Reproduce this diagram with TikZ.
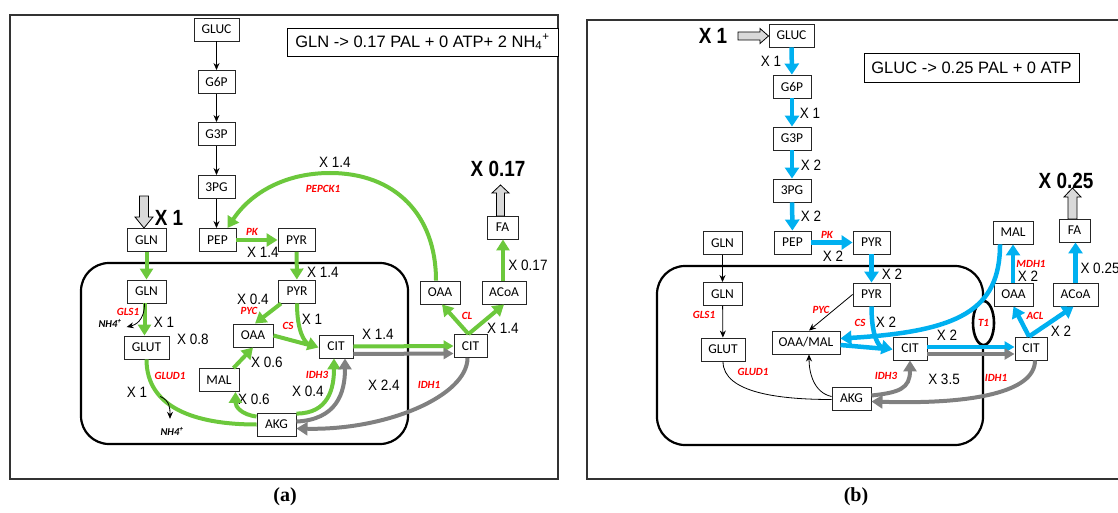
\documentclass[tikz,border=0pt]{standalone}
\usepackage{fontspec}
\setmainfont{Liberation Sans}
\newfontfamily\carl{Carlito}
\newfontfamily\xlblfont[FakeStretch=0.9]{Liberation Sans}
\newfontfamily\xbigfont[FakeStretch=0.86]{Liberation Sans}
\newfontfamily\xcapfont{Liberation Serif}
\usetikzlibrary{arrows.meta,shapes.geometric}
\definecolor{cgreen}{RGB}{108,200,60}
\definecolor{cblue}{RGB}{0,176,240}
\definecolor{cgray}{RGB}{128,128,128}
\definecolor{cred}{RGB}{255,0,0}
\definecolor{cfill}{RGB}{217,217,217}
\begin{document}
\begin{tikzpicture}[x=1pt,y=-1pt,
  box/.style={draw=black!85,line width=0.9pt,fill=white,font=\carl\fontsize{13.5}{13.5}\selectfont,minimum height=23pt,minimum width=#1,inner sep=0pt},
  eqbox/.style={draw=black,line width=0.9pt,fill=white,font=\fontsize{16.5}{17}\selectfont,inner sep=0pt},
  lab/.style={font=\xlblfont\fontsize{15}{15}\selectfont,inner sep=0pt},
  bigx/.style={font=\xbigfont\bfseries\fontsize{22}{22}\selectfont,inner sep=0pt},
  enz/.style={font=\carl\bfseries\itshape\fontsize{11}{11}\selectfont,text=cred,inner sep=0pt},
  nh/.style={font=\carl\bfseries\itshape\fontsize{10.5}{11}\selectfont,inner sep=0pt},
  capt/.style={font=\xcapfont\bfseries\fontsize{20}{20}\selectfont,inner sep=0pt},
  thinarr/.style={draw=black,line width=0.8pt,-{Stealth[length=7pt,width=6pt]}},
  thinln/.style={draw=black,line width=0.8pt},
  garr/.style={draw=cgreen,line width=4pt,-{Triangle[length=11pt,width=13pt]}},
  gln/.style={draw=cgreen,line width=4pt},
  barr/.style={draw=cblue,line width=4.5pt,-{Triangle[length=11pt,width=14pt]}},
  bln/.style={draw=cblue,line width=4.5pt},
  grarr/.style={draw=cgray,line width=4pt,-{Triangle[length=11pt,width=13pt]}},
  blockarr/.style={draw=black,line width=0.8pt,fill=cfill,line join=miter},
  frame/.style={draw=black!80,line width=1.1pt},
  mito/.style={draw=black,line width=2.2pt,rounded corners=28pt},
  t1/.style={draw=black,line width=2.6pt,fill=white,ellipse,minimum width=21pt,minimum height=44pt,inner sep=0pt,font=\carl\bfseries\itshape\fontsize{11}{11}\selectfont,text=cred}
]
\useasboundingbox (0,0) rectangle (1118,513);

% ================= PANEL (a) =================
\draw[frame] (10,15) rectangle (558,479);
\draw[mito] (81,263) rectangle (408,444);

\node[box=45pt] (aGLUC) at (216.5,29.5) {GLUC};
\node[box=37pt] (aG6P) at (216.5,82) {G6P};
\node[box=37pt] (aG3P) at (216.5,134) {G3P};
\node[box=37pt] (a3PG) at (216.5,187) {3PG};
\node[box=37pt] (aPEP) at (217.5,240) {PEP};
\node[box=39pt] (aGLNt) at (146.5,240) {GLN};
\node[box=37pt] (aPYRt) at (296.5,240) {PYR};
\node[box=39pt] (aGLNi) at (146.5,291.5) {GLN};
\node[box=45pt] (aGLUT) at (146.5,347.5) {GLUT};
\node[box=37pt] (aPYRi) at (297,291.5) {PYR};
\node[box=40pt] (aOAAi) at (253,335.5) {OAA};
\node[box=40pt] (aMAL) at (219,380) {MAL};
\node[box=39pt] (aAKG) at (276.5,424.5) {AKG};
\node[box=34pt] (aCITi) at (336,346.5) {CIT};
\node[box=33pt] (aCITo) at (470.5,346) {CIT};
\node[box=40pt] (aOAAo) at (440,292.5) {OAA};
\node[box=44pt] (aACoA) at (504,292.5) {ACoA};
\node[box=31pt] (aFA) at (502.5,227.5) {FA};
\node[eqbox,minimum width=271pt,minimum height=28pt] (aEQ) at (422.5,42) {GLN -> 0.17 PAL + 0 ATP+ 2 NH\textsubscript{4}\textsuperscript{+}};

% block arrows
\draw[blockarr] (139.5,196) -- (148.5,196) -- (148.5,217) -- (153,217) -- (144,228) -- (135,217) -- (139.5,217) -- cycle;
\draw[blockarr] (496.5,216) -- (504.5,216) -- (504.5,193) -- (509,193) -- (500.5,185) -- (492,193) -- (496.5,193) -- cycle;

% labels
\node[lab] (aL1) at (335,162) {X 1.4};
\node[enz] (aE1) at (323,189) {PEPCK1};
\node[bigx] (aB1) at (498,169) {X 0.17};
\node[bigx] (aB2) at (169,218) {X 1};
\node[enz] (aE2) at (252,232) {PK};
\node[lab] (aL2) at (263,252) {X 1.4};
\node[lab] (aL3) at (323,272) {X 1.4};
\node[enz] (aE3) at (128,312) {GLS1};
\node[nh] (aNH1) at (110,323) {NH4\textsuperscript{+}};
\node[lab] (aL4) at (164,322) {X 1};
\node[lab] (aL5) at (193,339) {X 0.8};
\node[enz] (aE4) at (170,376) {GLUD1};
\node[lab] (aL6) at (137,392) {X 1};
\node[nh] (aNH2) at (172,431) {NH4\textsuperscript{+}};
\node[lab] (aL7) at (253,299) {X 0.4};
\node[enz] (aE5) at (249,311) {PYC};
\node[enz] (aE6) at (288,326) {CS};
\node[lab] (aL8) at (267,362) {X 0.6};
\node[lab] (aL9) at (254,399) {X 0.6};
\node[lab] (aL10) at (312,319) {X 1};
\node[lab] (aL11) at (378,334) {X 1.4};
\node[enz] (aE7) at (317,375) {IDH3};
\node[lab] (aL12) at (308,391) {X 0.4};
\node[lab] (aL13) at (384,385) {X 2.4};
\node[enz] (aE8) at (429,385) {IDH1};
\node[enz] (aE9) at (467,316) {CL};
\node[lab] (aL14) at (503,328) {X 1.4};
\node[lab] (aL15) at (528,265) {X 0.17};
\node[capt] (aCap) at (285,497) {(a)};

% connectors (a)
\draw[thinarr] (aGLUC) -- (aG6P);
\draw[thinarr] (aG6P) -- (aG3P);
\draw[thinarr] (aG3P) -- (a3PG);
\draw[thinarr] (a3PG.south) -- (a3PG.south |- aPEP.north);
\draw[garr] (aGLNt) -- (aGLNi);
\draw[garr] ([xshift=-2pt]aGLNi.south) -- ([xshift=-2pt]aGLUT.north);
\draw[thinarr] ([xshift=-2pt]aGLNi.south) .. controls +(0,18) and +(8,-2) .. ([xshift=5pt,yshift=-4pt]aNH1.east);
\draw[garr] (aPEP) -- (aPYRt);
\draw[garr] (aPYRt) -- (aPYRi);
\draw[garr] ([xshift=3pt]aPYRi.south west) -- ([xshift=2pt]aOAAi.north);
\draw[garr] (aPYRi.south) .. controls +(0,28) and +(-14,-5) .. ([yshift=-1pt]aCITi.west);
\draw[gln,shorten >=6pt] (aOAAi.east) -- ([yshift=-1pt]aCITi.west);
\draw[garr] ([xshift=-6pt]aMAL.north east) -- (aOAAi.south);
\draw[garr] ([yshift=-4pt]aAKG.north west) .. controls +(-15,-2) and +(0,15) .. ([xshift=-4pt]aMAL.south east);
\draw[gln] (aGLUT.south) .. controls +(0,48) and +(-62,0) .. (aAKG.west) coordinate[pos=0.32] (aG1);
\draw[thinarr] (aG1) .. controls +(10,4) and +(0,-10) .. ([xshift=-2pt,yshift=8pt]aNH2.north);
\draw[garr] ([yshift=-1pt]aAKG.north east) .. controls +(32,0) and +(0,30) .. ([xshift=-2pt]aCITi.south);
\draw[grarr] ([yshift=-9pt]aAKG.north east) .. controls +(40,-2) and +(0,35) .. ([xshift=9pt]aCITi.south);
\draw[garr,-{Triangle[length=10pt,width=11pt]}] (aCITi.east) -- (aCITo.west);
\draw[grarr,-{Triangle[length=10pt,width=11pt]}] ([yshift=-7.5pt]aCITi.east) -- ([yshift=-7.5pt]aCITo.west);
\draw[grarr] ([xshift=-3pt]aCITo.south) .. controls +(0,38) and +(90,2) .. ([yshift=-4pt]aAKG.east);
\draw[garr] ([xshift=-2pt]aCITo.north) -- ([xshift=2pt]aOAAo.south);
\draw[garr] ([xshift=-2pt]aCITo.north) -- (aACoA.south);
\draw[garr] ([xshift=-1pt]aACoA.north) -- ([xshift=0.5pt]aFA.south);
\coordinate (aPK1) at (330,173);
\draw[garr] ([xshift=-4pt]aOAAo.north) .. controls +(0,-66) and +(65,0) .. (aPK1) .. controls +(-45,0) and +(23,-35) .. ([xshift=-9pt]aPEP.north east);

% ================= PANEL (b) =================
\draw[frame] (1125,20) -- (587,20) -- (587,479) -- (1125,479);
\draw[mito] (657,266) rectangle (983,445);
\node[t1] (bT1) at (983.5,323) {T1};

\node[box=45pt] (bGLUC) at (791.5,35.5) {GLUC};
\node[box=38pt] (bG6P) at (792,86.5) {G6P};
\node[box=38pt] (bG3P) at (792,138.5) {G3P};
\node[box=38pt] (b3PG) at (792,190.5) {3PG};
\node[box=37pt] (bPEP) at (792.5,242.5) {PEP};
\node[box=39pt] (bGLNt) at (722.5,243) {GLN};
\node[box=37pt] (bPYRt) at (871.5,242.5) {PYR};
\node[box=39pt] (bGLNi) at (722.5,294) {GLN};
\node[box=44pt] (bGLUT) at (723,349.5) {GLUT};
\node[box=37pt] (bPYRi) at (871.5,294.5) {PYR};
\node[box=68pt] (bOAAMAL) at (806,342.5) {OAA/MAL};
\node[box=39pt] (bAKG) at (851.5,398.5) {AKG};
\node[box=34pt] (bCITi) at (910,348.5) {CIT};
\node[box=32pt] (bCITo) at (1031,348.5) {CIT};
\node[box=39pt] (bOAAo) at (1013.5,294.5) {OAA};
\node[box=40pt] (bMAL) at (1013,232.5) {MAL};
\node[box=45pt] (bACoA) at (1075.5,294.5) {ACoA};
\node[box=31pt] (bFA) at (1074.5,230.5) {FA};
\node[eqbox,minimum width=215pt,minimum height=29pt] (bEQ) at (971.5,67.5) {GLUC -> 0.25 PAL + 0 ATP};

\draw[blockarr] (738,32) -- (760,32) -- (760,28.5) -- (768.5,36) -- (760,43.5) -- (760,40) -- (738,40) -- cycle;
\draw[blockarr] (1068,219) -- (1077,219) -- (1077,197) -- (1081,197) -- (1072.5,188) -- (1064,197) -- (1068,197) -- cycle;

\node[bigx] (bB1) at (713,36) {X 1};
\node[lab] (bL1) at (771,61) {X 1};
\node[lab] (bL2) at (810,113) {X 1};
\node[lab] (bL3) at (811,165) {X 2};
\node[lab] (bL4) at (811,216) {X 2};
\node[enz] (bE1) at (827,235) {PK};
\node[lab] (bL5) at (833,256) {X 2};
\node[lab] (bL6) at (892,274) {X 2};
\node[enz] (bE2) at (704,315) {GLS1};
\node[enz] (bE3) at (753,372) {GLUD1};
\node[enz] (bE4) at (821,310) {PYC};
\node[enz] (bE5) at (860,323) {CS};
\node[lab] (bL7) at (886,322) {X 2};
\node[lab] (bL8) at (947,335) {X 2};
\node[enz] (bE6) at (1031,264) {MDH1};
\node[lab] (bL9) at (1028,276) {X 2};
\node[bigx] (bB2) at (1066,181) {X 0.25};
\node[lab] (bL10) at (1100,268) {X 0.25};
\node[enz] (bE7) at (1035,316) {ACL};
\node[lab] (bL11) at (1061,331) {X 2};
\node[enz] (bE8) at (886,376) {IDH3};
\node[lab] (bL12) at (944,379) {X 3.5};
\node[enz] (bE9) at (996,378) {IDH1};
\node[capt] (bCap) at (856,497) {(b)};

% connectors (b)
\draw[barr] (bGLUC) -- (bG6P);
\draw[barr] (bG6P) -- (bG3P);
\draw[barr] (bG3P) -- (b3PG);
\draw[barr] (b3PG) -- (bPEP);
\draw[barr] (bPEP) -- (bPYRt);
\draw[barr] (bPYRt) -- (bPYRi);
\draw[thinarr] (bGLNt) -- (bGLNi);
\draw[thinarr] (bGLNi) -- (bGLUT);
\draw[thinln] (bGLUT.south) .. controls +(0,32) and +(-50,0) .. ([yshift=-1pt]bAKG.west);
\draw[thinarr] ([yshift=2pt]bAKG.west) .. controls +(-18,-4) and +(0,18) .. ([xshift=3pt]bOAAMAL.south);
\draw[thinarr] (bPYRi.west) -- ([xshift=3pt]bOAAMAL.north);
\draw[barr] (bPYRi.south) .. controls +(0,30) and +(-14,-3) .. ([yshift=-1pt]bCITi.west);
\draw[bln,shorten >=6pt] ([yshift=-2.5pt]bOAAMAL.east) -- ([yshift=-1pt]bCITi.west);
\draw[barr] ([xshift=-13pt]bMAL.south) .. controls +(0,66) and +(118,-7) .. ([yshift=4pt]bOAAMAL.east);
\draw[barr,-{Triangle[length=10pt,width=11pt]}] ([yshift=1.5pt]bCITi.east) -- ([yshift=1.5pt]bCITo.west);
\draw[grarr,-{Triangle[length=10pt,width=11pt]}] ([yshift=-5.5pt]bCITi.east) -- ([yshift=-5.5pt]bCITo.west);
\draw[barr] ([xshift=-2pt]bCITo.north) -- (bOAAo.south);
\draw[barr] ([xshift=-2pt]bCITo.north) -- ([xshift=-2pt]bACoA.south);
\draw[barr] ([xshift=-0.5pt]bOAAo.north) -- (bMAL.south);
\draw[barr] (bACoA.north) -- ([xshift=1pt]bFA.south);
\draw[grarr] ([xshift=4pt]bCITo.south) .. controls +(0,32) and +(100,3) .. ([yshift=-3pt]bAKG.east);
\draw[grarr] ([yshift=3pt]bAKG.east) .. controls +(28,-3) and +(0,28) .. (bCITi.south);
\end{tikzpicture}
\end{document}
